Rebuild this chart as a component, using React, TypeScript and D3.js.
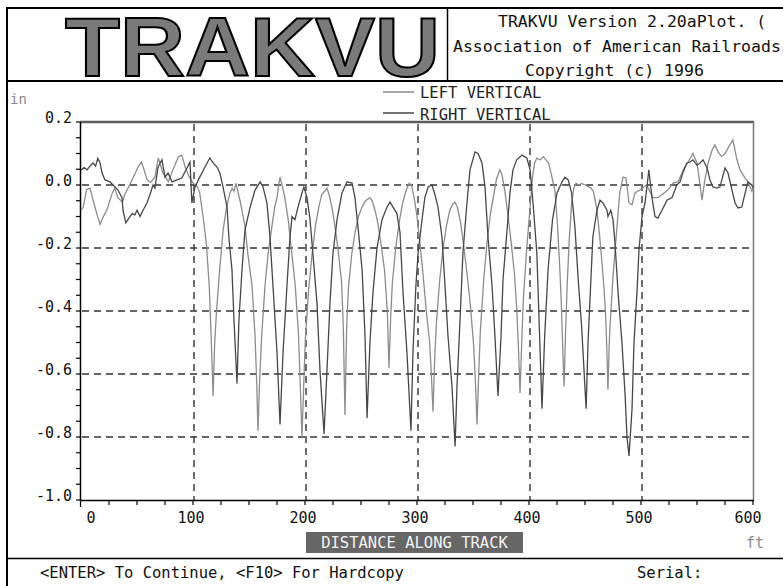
import React from "react";
import * as d3 from "d3";

// Vertical rail profile, [distance ft, deviation in]
const LEFT_VERTICAL: [number, number][] = [
  [0, -0.08], [2, -0.07], [5, -0.015], [8, -0.01], [11, -0.05], [14, -0.09], [17, -0.125], [20, -0.1],
  [23, -0.08], [28, -0.025], [30, -0.01], [33, -0.04], [37, -0.055], [39, -0.03], [42, -0.01], [46, 0.02],
  [51, 0.057], [54, 0.073], [55.5, 0.057], [59, 0.016], [62, 0.008], [66, 0.025], [69, 0.086], [73, 0.04],
  [78, 0.01], [82, 0.048], [87, 0.09], [90, 0.095], [93, 0.057], [96, 0.03], [100, 0.006], [104, -0.006],
  [106, -0.025],
  [109, -0.1], [112, -0.19], [114.5, -0.32], [116.4, -0.5], [117.9, -0.67], [119.4, -0.5], [121, -0.4],
  [124, -0.26], [127, -0.14], [130, -0.07], [133, -0.025], [135, -0.01], [136.5, -0.02], [138.4, 0.005],
  [142, -0.05], [146.4, -0.13], [149, -0.22], [152.7, -0.32], [155.4, -0.48], [157, -0.64], [158, -0.78],
  [159.5, -0.62], [161.3, -0.48], [164.3, -0.32], [167, -0.22], [170.5, -0.13], [173, -0.07], [175, -0.04],
  [176.5, 0.0], [177.7, 0.025],
  [179.5, 0.0], [182, -0.04], [185, -0.11], [188, -0.21], [191.3, -0.32], [194.3, -0.48], [195.8, -0.64],
  [197.3, -0.8], [198.8, -0.64], [200.3, -0.49], [203.3, -0.33], [206.3, -0.22], [209.3, -0.13], [212.3, -0.07],
  [215, -0.03], [217.5, -0.02], [219.6, -0.01],
  [221.5, -0.03], [224, -0.07], [226.7, -0.13], [229.7, -0.21], [232.7, -0.31], [234.2, -0.45], [235.7, -0.73],
  [237.2, -0.45], [238.7, -0.33], [241.7, -0.22], [244.7, -0.15], [247.7, -0.1], [251, -0.07], [254, -0.05],
  [256, -0.045], [258, -0.04],
  [260, -0.05], [262.5, -0.08], [265, -0.12], [268, -0.19], [271, -0.27], [273.5, -0.4], [275, -0.58],
  [276.5, -0.42], [278, -0.31], [281, -0.2], [284, -0.12], [287, -0.06], [290, -0.02], [292.9, 0.005],
  [295, 0.0], [297.5, -0.04], [300, -0.1], [302.5, -0.18], [305.3, -0.28], [308.3, -0.4], [311.3, -0.5],
  [312.8, -0.6], [314.3, -0.72], [315.8, -0.55], [317.3, -0.44], [320.3, -0.3], [323.3, -0.2], [326.3, -0.13],
  [329.3, -0.08], [332, -0.06], [334, -0.055],
  [336, -0.07], [339, -0.12], [341.6, -0.19], [344.6, -0.28], [347.6, -0.38], [350.6, -0.51], [352.1, -0.62],
  [353.6, -0.76], [355.1, -0.6], [356.6, -0.46], [359.6, -0.3], [362.6, -0.18], [365.6, -0.09], [368.6, -0.03],
  [371, 0.02], [374, 0.048],
  [376, 0.03], [378.5, -0.02], [381, -0.09], [384, -0.18], [387, -0.28], [389, -0.39], [390.5, -0.51],
  [392, -0.66], [393.5, -0.5], [395, -0.36], [398, -0.2], [401, -0.07], [403, 0.02], [405, 0.07], [407, 0.085],
  [410, 0.08], [413, 0.09], [416, 0.075], [417.5, 0.07],
  [420.5, 0.025], [423.2, -0.02], [425.3, -0.12], [427.3, -0.25], [428.8, -0.37], [429.8, -0.48], [431.3, -0.64],
  [432.8, -0.45], [434.3, -0.3], [436, -0.17], [438, -0.06], [440, -0.01], [442, 0.005], [444.5, 0.0],
  [447, 0.005], [450, 0.0], [453, -0.005], [455.5, -0.01],
  [457.5, -0.02], [460.7, -0.08], [463, -0.16], [465, -0.24], [467, -0.33], [468.5, -0.42], [469.5, -0.52],
  [470.5, -0.65], [471.5, -0.52], [472.3, -0.45], [475, -0.29], [478.6, -0.13], [481, -0.025], [484, 0.025],
  [486.6, 0.022], [489.3, -0.057], [492, -0.063], [494.6, -0.025], [499, -0.016], [505, 0.0], [510.7, -0.04],
  [515, -0.04], [519, -0.03], [524, -0.016],
  [528.6, 0.006], [533, 0.01], [536.6, 0.038], [539, 0.057], [542, 0.073], [546.4, 0.1], [550, 0.07],
  [552.7, 0.0], [554.5, -0.048], [557, 0.016], [560, 0.07], [563.4, 0.11], [566, 0.127], [568.8, 0.105],
  [572, 0.09], [575, 0.1], [577.7, 0.117], [582, 0.143], [585.7, 0.08], [588.4, 0.048], [593, 0.022],
  [595.5, 0.01], [599, -0.02], [600, -0.01],
];

const RIGHT_VERTICAL: [number, number][] = [
  [0, 0.048], [3, 0.055], [5.4, 0.048], [8, 0.06], [10.7, 0.07], [13, 0.06], [15, 0.085], [17, 0.07],
  [18.8, 0.038], [21.4, 0.016], [25.9, 0.01], [28.6, 0.0], [33, -0.016], [36.6, -0.04], [37.5, -0.08],
  [40, -0.12], [43.8, -0.1], [46, -0.09], [48, -0.095], [50, -0.08], [52.7, -0.1], [55.4, -0.08],
  [58.9, -0.057], [61.6, -0.03], [64.3, 0.0], [66, -0.01], [68.8, 0.057], [72.3, 0.08], [75, 0.025],
  [77.7, 0.038], [81.3, 0.01], [85.7, 0.016], [90, 0.022], [94.6, 0.054], [97.3, 0.073], [99, -0.057],
  [101.8, -0.006], [106, 0.025], [110.7, 0.057], [115, 0.086], [118, 0.07], [121.4, 0.057], [124, 0.038],
  [126.8, -0.006],
  [130.4, -0.07], [132, -0.165], [134.8, -0.27], [136.6, -0.43], [139.3, -0.63], [141, -0.43], [143.75, -0.27],
  [146.4, -0.143], [151, -0.07], [155.4, -0.016], [160, 0.01], [162.5, -0.006],
  [166, -0.057], [168.75, -0.165], [171.4, -0.32], [175, -0.53], [177.7, -0.76], [180.4, -0.53], [183.9, -0.32],
  [186.6, -0.165], [188.4, -0.1], [191, -0.11], [193.75, -0.07], [197.3, -0.025], [199, -0.006],
  [201.8, -0.04], [204.5, -0.11], [207, -0.216], [210.7, -0.375], [213.4, -0.59], [217, -0.79], [219.6, -0.59],
  [222.3, -0.375], [225, -0.216], [228.6, -0.11], [233, -0.025], [237.5, 0.01], [242, 0.006],
  [244.6, -0.04], [247.3, -0.133], [251, -0.27], [253.6, -0.48], [255.4, -0.74], [258, -0.5], [260.7, -0.34],
  [264.3, -0.2], [268.75, -0.11], [273.2, -0.07], [275.9, -0.054], [278.6, -0.07], [282, -0.09],
  [284.8, -0.15], [287.5, -0.34], [291, -0.53], [294.6, -0.78], [296.4, -0.53], [299, -0.32], [301, -0.216],
  [304.5, -0.11], [307, -0.04], [310, -0.006], [313.4, 0.0], [316, -0.03],
  [318.75, -0.07], [322.3, -0.165], [325, -0.32], [327.7, -0.48], [331.25, -0.64], [334, -0.83], [335.7, -0.64],
  [338.4, -0.43], [341, -0.216], [344.6, -0.057], [347.3, 0.048], [351.8, 0.105], [354.5, 0.1], [358, 0.07],
  [360.7, -0.006], [363.4, -0.165], [367, -0.32], [369.6, -0.48], [372.3, -0.67], [375, -0.48], [376.8, -0.3],
  [380.4, -0.143], [383, -0.025], [385.7, 0.048], [389, 0.08], [393.75, 0.095], [398, 0.086], [401, 0.048],
  [403.6, -0.057], [407, -0.216], [409, -0.43], [411.6, -0.71], [414, -0.48], [417, -0.27], [421, -0.11],
  [425, -0.025], [429.5, 0.01], [432, 0.025], [435, 0.016], [438, -0.025],
  [441, -0.133], [443.75, -0.29], [447, -0.45], [451, -0.71], [452.7, -0.5], [455.4, -0.29], [457, -0.165],
  [460.7, -0.08], [463.4, -0.048], [466, -0.057], [469.6, -0.08], [470.5, -0.1], [473, -0.08], [475, -0.11],
  [476.8, -0.185], [479.5, -0.34], [483, -0.5], [485.7, -0.66], [487.5, -0.8], [489.3, -0.86], [492, -0.71],
  [493.75, -0.5], [496.4, -0.34], [498.2, -0.206], [500.9, -0.1], [503.6, -0.057], [506, 0.016], [507, 0.048],
  [509.8, -0.04], [512.5, -0.1], [515, -0.105], [518.75, -0.08],
  [523.2, -0.048], [527.7, -0.04], [532, 0.0], [534.8, 0.01], [537.5, 0.04], [541, 0.07], [543.75, 0.073],
  [546.4, 0.08], [550, 0.063], [552.7, 0.07], [555.4, 0.08], [559, 0.054], [561.6, 0.016], [564.3, -0.006],
  [567.9, -0.01], [570.5, -0.006], [573.2, 0.03], [575, 0.054], [577.7, 0.038], [581.25, -0.016], [584, -0.057],
  [586.6, -0.073], [590, -0.07], [593, -0.025], [595.5, 0.01], [599, 0.0], [600, -0.01],
];

const SERIES_NAMES = ["LEFT VERTICAL", "RIGHT VERTICAL"];
const X_TICKS = [0, 100, 200, 300, 400, 500, 600];
const X_TICK_LABELS = ["0", "100", "200", "300", "400", "500", "600"];
const Y_TICKS = [0.2, 0.0, -0.2, -0.4, -0.6, -0.8, -1.0];
const Y_TICK_LABELS = ["0.2", "0.0", "-0.2", "-0.4", "-0.6", "-0.8", "-1.0"];
const X_GRID = [100, 200, 300, 400, 500];
const Y_GRID = [0.0, -0.2, -0.4, -0.6, -0.8];
const HEADER_LINES = [
  "TRAKVU Version 2.20aPlot. (",
  "Association of American Railroads",
  "Copyright (c) 1996",
];

const MONO = "'DejaVu Sans Mono', 'Liberation Mono', monospace";
const LIGHT = "#8c8c8c";
const DARK = "#474747";

export default function App() {
  const W = 783;
  const H = 586;
  const x = d3.scaleLinear().domain([0, 600]).range([81, 753]);
  const y = d3.scaleLinear().domain([-1, 0.2]).range([500, 122]);

  const line = d3
    .line<[number, number]>()
    .x((d) => x(d[0]))
    .y((d) => y(d[1]));

  const yMinor = d3.range(-1, 0.2001, 0.05);
  const xMinor = d3.range(0, 600.1, 25);

  const xLabelPos = (v: number, i: number) => {
    if (i === 0) return x(v) + 10;
    if (i === X_TICKS.length - 1) return x(v) - 5;
    return x(v) - 2;
  };

  return (
    <svg
      width={W}
      height={H}
      style={{ position: "absolute", left: 0, top: 0, background: "#fff" }}
      fontFamily={MONO}
    >
      <rect x={0} y={0} width={W} height={H} fill="#fff" />

      {/* screen frame */}
      <line x1={7} x2={W} y1={8} y2={8} stroke="#000" strokeWidth={2} />
      <line x1={7} x2={7} y1={7} y2={H} stroke="#000" strokeWidth={2} />
      <line x1={7} x2={W} y1={81} y2={81} stroke="#000" strokeWidth={2} />
      <line x1={447.5} x2={447.5} y1={8} y2={81} stroke="#000" strokeWidth={1.5} />
      <line x1={7} x2={W} y1={558.5} y2={558.5} stroke="#000" strokeWidth={1.5} />

      {/* logo */}
      <text
        x={65}
        y={76}
        fontFamily="'Liberation Sans', Arial, sans-serif"
        fontWeight="bold"
        fontSize={84}
        textLength={375}
        lengthAdjust="spacingAndGlyphs"
        fill="#7a7a7a"
        stroke="#000"
        strokeWidth={2}
      >
        TRAKVU
      </text>

      {/* header text */}
      {HEADER_LINES.map((t, i) => (
        <text
          key={t}
          x={i === 0 ? 498 : i === 1 ? 453 : 525}
          y={[27, 52, 76][i]}
          fontSize={16.5}
          fill="#111"
        >
          {t}
        </text>
      ))}

      {/* units */}
      <text x={10} y={104} fontSize={14} fill={LIGHT}>in</text>
      <text x={746} y={548} fontSize={15} fill={LIGHT}>ft</text>

      {/* grid */}
      {Y_GRID.map((v) => (
        <line
          key={"gy" + v}
          x1={82}
          x2={753}
          y1={y(v)}
          y2={y(v)}
          stroke="#333"
          strokeWidth={1.4}
          strokeDasharray="7 5"
        />
      ))}
      {X_GRID.map((v) => (
        <line
          key={"gx" + v}
          x1={x(v) + 1}
          x2={x(v) + 1}
          y1={124}
          y2={500}
          stroke="#333"
          strokeWidth={1.4}
          strokeDasharray="7 5"
        />
      ))}

      {/* frame of the plot */}
      <line x1={80} x2={754} y1={122} y2={122} stroke="#5c5c5c" strokeWidth={2.5} />
      <line x1={753.5} x2={753.5} y1={122} y2={500} stroke="#777" strokeWidth={1.5} />
      <line x1={80.5} x2={80.5} y1={122} y2={501} stroke="#000" strokeWidth={1.5} />
      <line x1={80} x2={754} y1={500.5} y2={500.5} stroke="#000" strokeWidth={1.5} />

      {/* ticks */}
      {yMinor.map((v) => (
        <line key={"ty" + v} x1={76} x2={80} y1={y(v)} y2={y(v)} stroke="#000" strokeWidth={1.2} />
      ))}
      {xMinor.map((v) => (
        <line
          key={"tx" + v}
          x1={x(v) + (v === 0 ? -0.5 : 0)}
          x2={x(v) + (v === 0 ? -0.5 : 0)}
          y1={500}
          y2={v === 0 ? 507 : 505}
          stroke="#000"
          strokeWidth={1.2}
        />
      ))}

      {Y_TICKS.map((v, i) => (
        <text key={"ly" + v} x={72} y={y(v) + 1} fontSize={15} textAnchor="end" fill="#111">
          {Y_TICK_LABELS[i]}
        </text>
      ))}
      {X_TICKS.map((v, i) => (
        <text key={"lx" + v} x={xLabelPos(v, i)} y={523} fontSize={15} textAnchor="middle" fill="#111">
          {X_TICK_LABELS[i]}
        </text>
      ))}

      {/* axis title */}
      <rect x={306} y={532} width={217} height={21} fill="#666" />
      <text x={414.5} y={548} fontSize={15.5} textAnchor="middle" fill="#f2f2f2">
        DISTANCE ALONG TRACK
      </text>

      {/* legend */}
      <line x1={383} x2={414} y1={92} y2={92} stroke={LIGHT} strokeWidth={1.5} />
      <text x={420} y={98} fontSize={15.5} fill="#222">{SERIES_NAMES[0]}</text>
      <line x1={383} x2={414} y1={113} y2={113} stroke={DARK} strokeWidth={1.5} />
      <text x={420} y={120} fontSize={15.5} fill="#222">{SERIES_NAMES[1]}</text>

      {/* traces */}
      <path d={line(LEFT_VERTICAL) ?? ""} fill="none" stroke={LIGHT} strokeWidth={1.3} />
      <path d={line(RIGHT_VERTICAL) ?? ""} fill="none" stroke={DARK} strokeWidth={1.3} />

      {/* footer */}
      <text x={40} y={578} fontSize={15.5} fill="#111">
        {"<ENTER> To Continue, <F10> For Hardcopy"}
      </text>
      <text x={637} y={578} fontSize={15.5} fill="#111">Serial:</text>
    </svg>
  );
}
